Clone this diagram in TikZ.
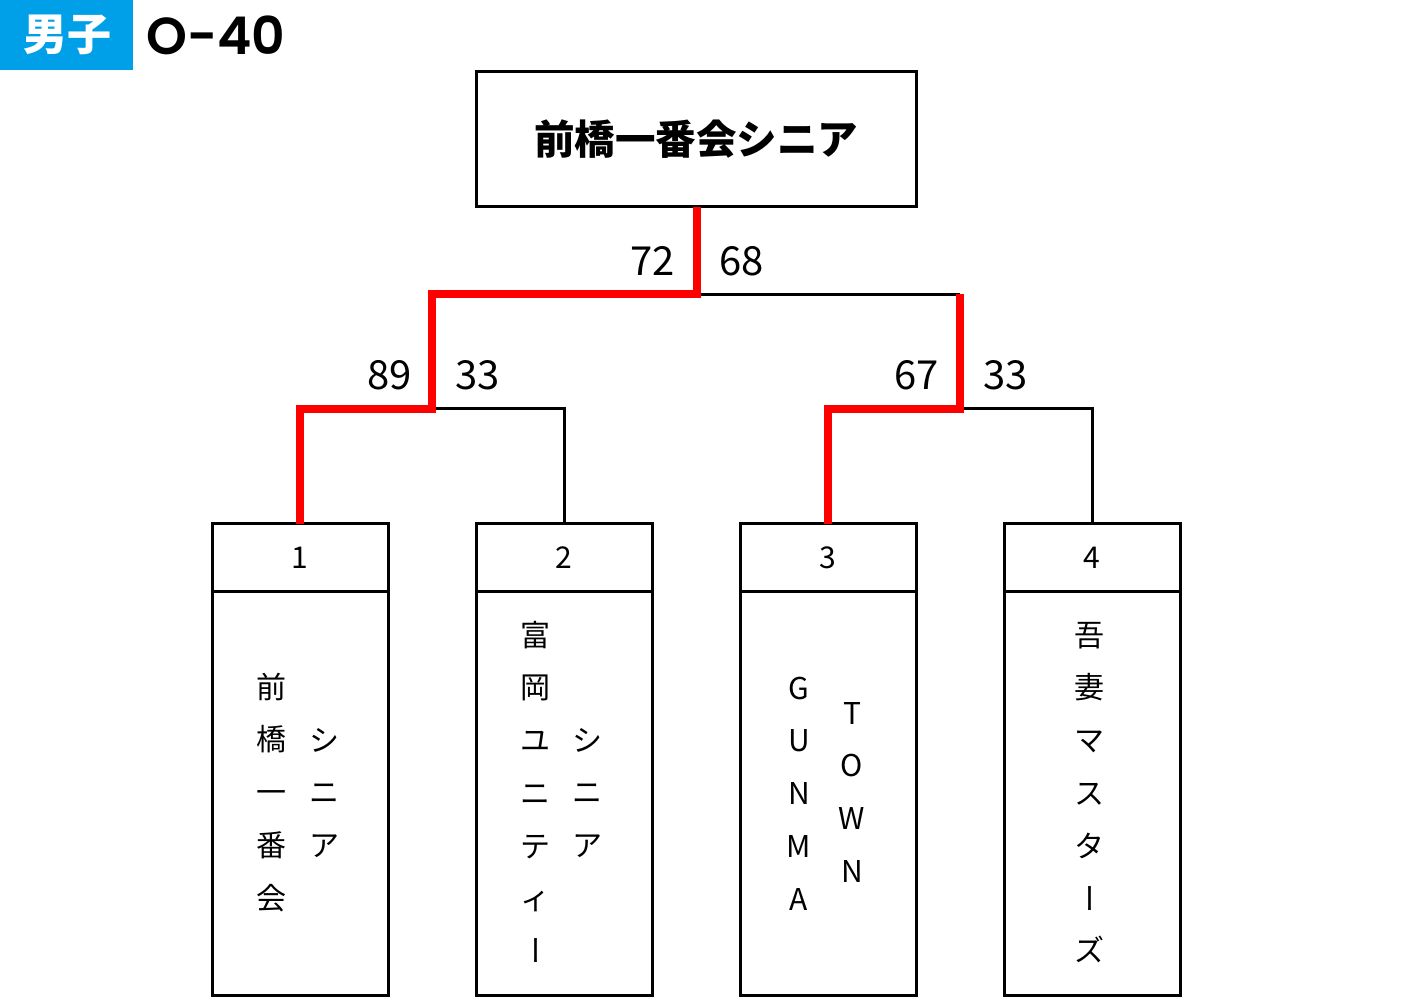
\documentclass[tikz,border=0pt]{standalone}
\usepackage{fontspec}
\setmainfont{Noto Sans CJK JP}
\newfontfamily\popfont{Poppins}[BoldFont={* SemiBold}]
\definecolor{hdrblue}{HTML}{00A0E9}
\definecolor{winred}{HTML}{FF0000}
\tikzset{
  boxline/.style={draw=black, line width=3pt, inner sep=0pt, outer sep=0pt},
  hdrbox/.style={boxline, minimum width=176pt, minimum height=68pt, font=\fontsize{30}{30}\selectfont},
  bodybox/.style={boxline, minimum width=176pt, minimum height=404pt},
  lose/.style={draw=black, line width=3pt, line join=miter},
  win/.style={draw=winred, line width=8pt, line join=miter},
  score/.style={font=\fontsize{40}{40}\selectfont, inner sep=0pt},
  vch/.style={font=\fontsize{30}{30}\selectfont, inner sep=0pt, anchor=base},
  vbar/.style={font=\fontsize{30}{30}\selectfont, inner sep=0pt, rotate=90},
}
\newcommand{\vcol}[4]{% name prefix, x, start y (glyph centre), list
  \foreach \ch [count=\i] in {#4} {
    \node[vch] (#1-\i) at (#2, #3+11.2+52.7*\i-52.7) {\ch};
  }
}
\begin{document}
\begin{tikzpicture}[x=1pt, y=-1pt]
\useasboundingbox (0,0) rectangle (1404,1000);
% header
\node[fill=hdrblue, minimum width=133pt, minimum height=70pt, inner sep=0pt, anchor=north west] (tag) at (0,0) {};
\node[text=white, font=\fontsize{44}{44}\selectfont\bfseries, inner sep=0pt] (tagtext) at (67,35) {男子};
\node[font=\fontsize{52}{52}\selectfont\popfont\bfseries, inner sep=0pt, anchor=west] (cls) at (146,35) {O-40};
% champion
\node[boxline, minimum width=440pt, minimum height=135pt, font=\fontsize{40.5}{40.5}\selectfont\bfseries] (top) at (696,139.5) {前橋一番会シニア};
% team boxes
\foreach \k/\x in {1/300, 2/564, 3/828, 4/1092} {
  \node[hdrbox] (h\k) at (\x,557.5) {\k};
  \node[bodybox] (b\k) at (\x,793.5) {};
}
% junctions
\coordinate (f) at (697,294);
\coordinate (sl) at (432,294);
\coordinate (sr) at (960,294);
\coordinate (sl2) at (432,408.5);
\coordinate (sr2) at (960,408.5);
\coordinate (l1) at (300,408.5);
\coordinate (l2) at (564,408.5);
\coordinate (r1) at (828,408.5);
\coordinate (r2) at (1092,408.5);
% losing lines
\draw[lose] (f) -- (sr);
\draw[lose] (sl2) -- (l2) -- (h2.north);
\draw[lose] (sr2) -- (r2) -- (h4.north);
% winning lines
\draw[win] (top.south -| f) -- (f) -- (sl) -- (sl2) -- (l1) -- (h1.north -| l1);
\draw[win] (sr) -- (sr2) -- (r1) -- (h3.north -| r1);
% scores
\node[score, anchor=east] (s72) at (675,261) {72};
\node[score, anchor=west] (s68) at (719,261) {68};
\node[score, anchor=east] (s89) at (412,375) {89};
\node[score, anchor=west] (s33a) at (455,375) {33};
\node[score, anchor=east] (s67) at (939,375) {67};
\node[score, anchor=west] (s33b) at (983,375) {33};
% vertical team names
\vcol{t1a}{271}{687}{前,橋,一,番,会}
\vcol{t1b}{324}{740}{シ,ニ,ア}
\vcol{t2a}{535}{635}{富,岡,ユ,ニ,テ,ィ}
\node[vbar] (t2bar) at (540.5,950) {ー};
\vcol{t2b}{587}{740}{シ,ニ,ア}
\vcol{t3a}{799}{688}{G,U,N,M,A}
\vcol{t3b}{852}{713}{T,O,W,N}
\vcol{t4a}{1089}{635}{吾,妻,マ,ス,タ}
\node[vbar] (t4bar) at (1094.5,898) {ー};
\node[vch] (t4z) at (1089,950+11.2) {ズ};
\end{tikzpicture}
\end{document}
